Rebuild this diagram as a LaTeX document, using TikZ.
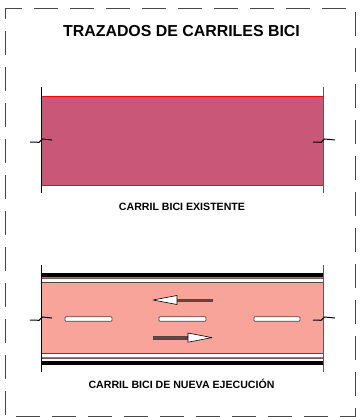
\documentclass[tikz,border=0pt]{standalone}
\usepackage{fontspec}
\setmainfont{Liberation Sans}
\definecolor{existfill}{RGB}{200,87,120}
\definecolor{newfill}{RGB}{249,164,155}
\definecolor{framecol}{RGB}{70,70,70}
\definecolor{brownline}{RGB}{125,85,85}
\definecolor{pinkline}{RGB}{180,110,110}
\definecolor{darkline}{RGB}{80,70,70}
\definecolor{shaftcol}{RGB}{100,70,70}
\begin{document}
\begin{tikzpicture}[x=1pt,y=-1pt,
  frame/.style={draw=framecol, line width=1pt, dash pattern=on 24pt off 12pt, dash phase=14pt},
  lbl/.style={font=\bfseries\fontsize{10.6}{12}\selectfont, anchor=base, inner sep=0pt},
  breaksym/.style={draw=black, line width=1pt, line join=miter},
  lanedash/.style={draw=darkline, fill=white, line width=0.7pt, rounded corners=0.8pt},
  arrowhead/.style={draw=black, fill=white, line width=0.6pt, line join=round},
  shaft/.style={draw=darkline, fill=shaftcol, line width=0.4pt}]
\useasboundingbox (0,0) rectangle (360,417);
% dashed frame
\draw[frame] (5,9) rectangle (355,416.5);
% title
\node[font=\bfseries\fontsize{15.9}{18}\selectfont, anchor=base, inner sep=0pt] (title) at (181.5,36.7) {TRAZADOS DE CARRILES BICI};
% ---- existing lane ----
\fill[existfill] (41,96) rectangle (323,185);
\draw[red, line width=0.8pt] (41,96) -- (323,96);
\draw[red, line width=0.8pt] (41,185) -- (323,185);
\draw[black, line width=0.8pt] (41,87) -- (41,193);
\draw[black!65, line width=0.9pt] (323,87) -- (323,193);
\draw[breaksym] (30,142) -- (39,142.3) -- (42.5,139) -- (52,140);
\draw[breaksym] (313,142) -- (321,142.3) -- (324.5,139) -- (335,140);
\node[lbl] (lbl1) at (182,210) {CARRIL BICI EXISTENTE};
% ---- new lane ----
\fill[newfill] (41,283) rectangle (323,353);
\fill[black] (41,272.5) rectangle (323,276.6);
\draw[pinkline, line width=0.7pt] (41,277.4) -- (323,277.4);
\draw[brownline, line width=0.9pt] (41,278.8) -- (323,278.8);
\draw[darkline, line width=0.8pt] (41,282.6) -- (323,282.6);
\draw[darkline, line width=0.8pt] (41,353.3) -- (323,353.3);
\draw[pinkline, line width=0.8pt] (41,357.2) -- (323,357.2);
\draw[brownline, line width=0.7pt] (41,358.6) -- (323,358.6);
\fill[black] (41,360.6) rectangle (323,365);
\draw[black, line width=0.8pt] (41,265) -- (41,372);
\draw[black!65, line width=0.9pt] (323,265) -- (323,372);
% lane dashes
\draw[lanedash] (65,316.8) rectangle (112,321.2);
\draw[lanedash] (159,316.8) rectangle (206,321.2);
\draw[lanedash] (254,316.8) rectangle (300,321.2);
% arrows
\draw[shaft] (176,299) rectangle (212,301.2);
\draw[arrowhead] (153,300) -- (177,295.5) -- (177,304.5) -- cycle;
\draw[shaft] (153,336.5) rectangle (189,338.7);
\draw[arrowhead] (212,337.6) -- (188,333) -- (188,342.2) -- cycle;
% break symbols
\draw[breaksym] (30,320) -- (39,320.3) -- (42.5,317) -- (52,318);
\draw[breaksym] (313,320) -- (321,320.3) -- (324.5,317) -- (335,318);
\node[lbl] (lbl2) at (181.5,388) {CARRIL BICI DE NUEVA EJECUCIÓN};
\end{tikzpicture}
\end{document}
